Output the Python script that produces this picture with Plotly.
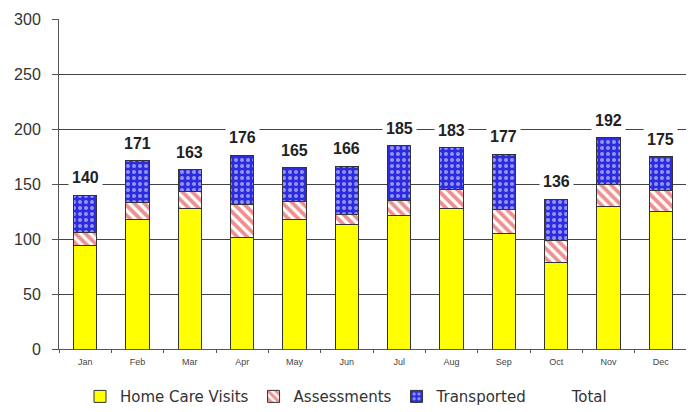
import plotly.graph_objects as go

months = ["Jan", "Feb", "Mar", "Apr", "May", "Jun", "Jul", "Aug", "Sep", "Oct", "Nov", "Dec"]
home_care = [94, 118, 128, 101, 118, 113, 121, 128, 105, 79, 130, 125]
assessments = [12, 15, 15, 30, 16, 9, 14, 17, 22, 20, 20, 19]
transported = [34, 38, 20, 45, 31, 44, 50, 38, 50, 37, 42, 31]
totals = [140, 171, 163, 176, 165, 166, 185, 183, 177, 136, 192, 175]

FONT = "Liberation Sans, Arial, sans-serif"
outline = dict(color="#333333", width=1)

fig = go.Figure()
fig.add_trace(go.Bar(
    x=months, y=home_care, name="Home Care Visits",
    marker=dict(color="#FFFF00", line=outline),
    width=0.44,
))
fig.add_trace(go.Bar(
    x=months, y=assessments, name="Assessments",
    marker=dict(color="#FFFFFF", line=outline,
                pattern=dict(shape="\\", fgcolor="#DD2222", bgcolor="#FFFFFF",
                             size=7, solidity=0.55)),
    width=0.44,
))
fig.add_trace(go.Bar(
    x=months, y=transported, name="Transported",
    marker=dict(color="#2B2BE0", line=outline,
                pattern=dict(shape=".", fgcolor="#FFFFFF", bgcolor="#2B2BE0",
                             size=6, solidity=0.35)),
    width=0.44,
))
fig.add_trace(go.Scatter(
    x=months, y=totals, name="Total", mode="lines",
    line=dict(color="rgba(0,0,0,0)", width=0),
    hoverinfo="skip",
))

for m, t in zip(months, totals):
    fig.add_annotation(
        x=m, y=t, text="<b>%d</b>" % t, showarrow=False,
        yanchor="bottom", yshift=5,
        font=dict(family=FONT, size=16, color="#222222"),
        bgcolor="#FFFFFF", borderpad=3,
    )

# right border of plot area
fig.add_shape(type="line", xref="paper", yref="paper", x0=1, x1=1, y0=0, y1=1,
              line=dict(color="#AAAAAA", width=1))

fig.update_layout(
    width=686, height=404,
    barmode="stack",
    paper_bgcolor="#FFFFFF", plot_bgcolor="#FFFFFF",
    margin=dict(l=51, r=7, t=11, b=63, autoexpand=False),
    font=dict(family=FONT, color="#333333"),
    showlegend=True,
    legend=dict(orientation="h", xref="container", yref="container",
                x=0.105, xanchor="left", y=0.038, yanchor="middle",
                font=dict(family="DejaVu Sans, sans-serif", size=15, color="#333333"),
                itemwidth=30, traceorder="normal"),
    xaxis=dict(showline=True, linecolor="#555555", linewidth=1,
               ticks="outside", tickson="boundaries", ticklen=3, tickcolor="#555555",
               ticklabelstandoff=4,
               tickfont=dict(size=9, color="#444444"),
               showgrid=False),
    yaxis=dict(range=[0, 300], dtick=50, showline=True, linecolor="#555555",
               linewidth=1, ticks="outside", ticklen=6, tickcolor="#555555",
               ticklabelstandoff=8,
               showgrid=True, gridcolor="#444444", gridwidth=1,
               tickfont=dict(size=16, color="#333333"), zeroline=False),
)

fig.write_html("out.html")
